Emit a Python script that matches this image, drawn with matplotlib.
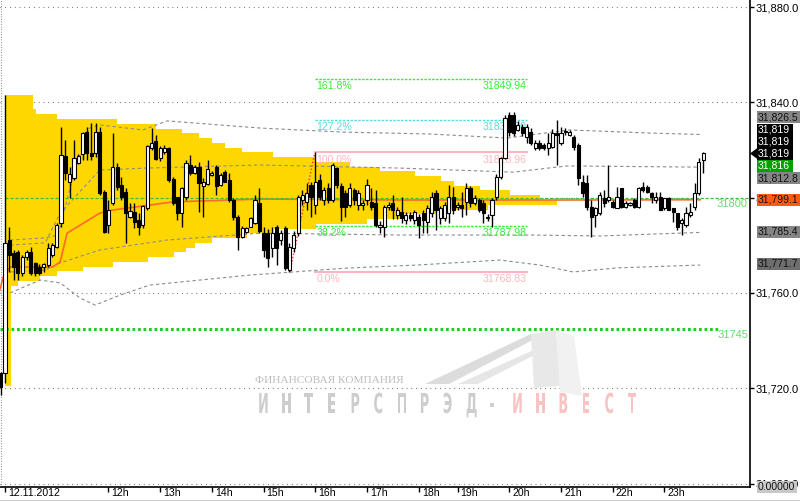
import numpy as np
import matplotlib
matplotlib.use("Agg")
import matplotlib.pyplot as plt
from matplotlib.patches import Rectangle, Polygon, PathPatch
from matplotlib.textpath import TextPath
from matplotlib.font_manager import FontProperties
from matplotlib.transforms import Affine2D

# ==============================================================================
#                           DATA (5 minute bars, 12.11.2012)
# ==============================================================================
first_bar = -1  # bar index of the first candle, 10h = 0

opens = [31726.4, 31726.4, 31782.2, 31776.6, 31777.3, 31768.5, 31775.2, 31777.3, 31772.4, 31771.0,
         31770.7, 31771.7, 31775.9, 31779.4, 31789.2, 31817.5, 31806.7, 31808.1, 31814.7, 31818.3,
         31827.7, 31818.9, 31818.6, 31827.7, 31802.5, 31788.5, 31797.6, 31813.0, 31805.3, 31802.5,
         31791.7, 31794.1, 31790.6, 31788.5, 31795.5, 31820.7, 31823.8, 31816.5, 31819.3, 31820.7,
         31807.8, 31800.1, 31793.7, 31800.4, 31813.7, 31810.5, 31813.0, 31804.9, 31805.7, 31809.5,
         31812.7, 31805.3, 31810.9, 31807.4, 31799.0, 31792.0, 31783.6, 31785.7, 31787.8, 31789.2,
         31797.6, 31785.0, 31785.0, 31778.7, 31787.8, 31782.2, 31787.1, 31769.6, 31778.7, 31785.0,
         31799.0, 31798.3, 31805.3, 31797.0, 31807.4, 31799.0, 31803.9, 31799.0, 31812.3, 31805.0,
         31801.8, 31796.9, 31803.2, 31796.9, 31796.9, 31799.0, 31798.3, 31797.6, 31787.8, 31787.8,
         31796.2, 31797.6, 31792.7, 31794.1, 31790.6, 31792.7, 31790.6, 31792.0, 31793.4, 31789.9,
         31793.4, 31801.8, 31791.3, 31791.3, 31793.4, 31800.4, 31796.2, 31796.9, 31798.3, 31803.9,
         31797.6, 31799.0, 31797.6, 31791.3, 31792.7, 31800.4, 31808.8, 31816.5, 31834.7, 31834.7,
         31828.4, 31829.8, 31825.6, 31827.7, 31820.7, 31823.1, 31822.1, 31820.7, 31821.4, 31827.0,
         31822.8, 31827.7, 31826.3, 31825.6, 31822.1, 31806.7, 31806.0, 31796.2, 31792.7, 31793.4,
         31799.7, 31799.0, 31798.3, 31795.5, 31803.9, 31796.2, 31797.0, 31799.0, 31796.2, 31804.6,
         31804.6, 31801.8, 31799.0, 31800.4, 31795.5, 31799.7, 31795.5, 31793.4, 31789.2, 31788.5,
         31792.7, 31796.2, 31801.8, 31815.8]
highs = [31727.0, 31843.0, 31787.8, 31778.0, 31778.0, 31776.0, 31778.0, 31779.4, 31773.0, 31772.0,
         31772.7, 31780.8, 31781.0, 31789.2, 31829.8, 31824.2, 31813.0, 31824.2, 31818.5, 31827.7,
         31829.8, 31831.2, 31831.2, 31829.8, 31803.2, 31799.0, 31827.0, 31814.4, 31808.8, 31803.9,
         31797.6, 31797.6, 31793.4, 31796.9, 31822.1, 31829.1, 31826.3, 31821.5, 31822.0, 31821.4,
         31808.8, 31800.4, 31804.6, 31815.8, 31817.9, 31813.5, 31815.1, 31808.1, 31815.8, 31811.0,
         31813.7, 31810.2, 31811.6, 31810.2, 31799.7, 31792.7, 31788.0, 31787.8, 31792.0, 31801.1,
         31803.9, 31787.8, 31787.0, 31787.8, 31788.5, 31786.5, 31788.0, 31781.0, 31786.0, 31801.0,
         31803.0, 31806.0, 31806.7, 31819.0, 31810.0, 31804.5, 31806.0, 31814.4, 31813.0, 31806.0,
         31803.0, 31806.0, 31804.0, 31803.0, 31799.0, 31808.0, 31804.0, 31803.2, 31790.0, 31797.0,
         31798.0, 31801.0, 31796.0, 31800.4, 31794.0, 31794.0, 31795.0, 31793.0, 31795.0, 31797.0,
         31802.5, 31803.0, 31796.5, 31798.0, 31805.3, 31804.6, 31798.0, 31802.5, 31806.0, 31805.0,
         31801.0, 31800.0, 31799.0, 31793.0, 31799.7, 31810.0, 31817.2, 31834.5, 31836.0, 31836.0,
         31832.0, 31831.0, 31831.0, 31829.1, 31824.0, 31824.0, 31823.0, 31827.0, 31828.7, 31832.6,
         31829.8, 31829.1, 31828.5, 31826.3, 31822.8, 31809.5, 31809.5, 31799.0, 31796.2, 31802.5,
         31803.2, 31813.7, 31799.0, 31804.6, 31803.9, 31798.5, 31798.0, 31800.0, 31804.6, 31806.7,
         31805.3, 31802.5, 31802.5, 31802.5, 31800.0, 31800.4, 31795.5, 31793.4, 31791.3, 31796.2,
         31797.6, 31806.0, 31816.5, 31819.3]
lows = [31717.0, 31722.0, 31768.9, 31765.4, 31765.4, 31767.0, 31774.0, 31767.5, 31767.0, 31767.5,
        31768.9, 31771.0, 31775.0, 31778.7, 31787.8, 31807.4, 31799.7, 31807.4, 31814.0, 31815.8,
        31815.8, 31815.8, 31817.2, 31801.1, 31785.0, 31785.0, 31796.9, 31803.2, 31799.0, 31780.8,
        31791.3, 31787.1, 31784.3, 31787.1, 31794.8, 31820.0, 31815.8, 31815.5, 31818.5, 31806.7,
        31796.9, 31790.6, 31787.8, 31799.0, 31809.5, 31810.0, 31794.1, 31792.0, 31805.3, 31809.0,
        31801.1, 31805.0, 31806.7, 31798.3, 31790.6, 31778.0, 31783.0, 31785.0, 31787.5, 31789.0,
        31785.0, 31775.2, 31771.0, 31775.2, 31771.7, 31780.0, 31769.6, 31768.8, 31777.0, 31784.0,
        31797.0, 31795.0, 31792.0, 31793.0, 31799.0, 31797.0, 31797.6, 31798.3, 31804.0, 31790.0,
        31792.0, 31796.0, 31797.0, 31795.0, 31795.0, 31797.0, 31795.0, 31787.8, 31785.0, 31783.6,
        31795.0, 31791.0, 31791.0, 31789.2, 31789.0, 31790.0, 31789.0, 31782.9, 31785.0, 31785.0,
        31792.0, 31786.4, 31789.0, 31790.0, 31789.2, 31793.0, 31795.0, 31792.0, 31792.7, 31796.0,
        31797.0, 31794.0, 31789.2, 31790.0, 31787.8, 31799.0, 31808.0, 31816.0, 31826.0, 31826.0,
        31828.0, 31826.0, 31823.0, 31822.1, 31820.0, 31820.0, 31820.0, 31817.9, 31820.7, 31813.7,
        31822.1, 31826.3, 31826.0, 31820.0, 31805.3, 31800.4, 31794.8, 31783.6, 31787.8, 31792.7,
        31796.2, 31798.0, 31795.5, 31795.5, 31795.5, 31795.5, 31796.5, 31795.5, 31795.5, 31802.5,
        31801.8, 31797.6, 31797.6, 31794.8, 31795.0, 31794.8, 31789.9, 31786.4, 31784.3, 31787.8,
        31792.0, 31794.8, 31801.1, 31810.2]
closes = [31720.5, 31781.0, 31775.9, 31771.0, 31768.2, 31775.2, 31777.3, 31768.2, 31768.2, 31768.5,
          31772.1, 31778.7, 31780.1, 31788.5, 31817.9, 31810.2, 31809.8, 31816.5, 31817.5, 31827.0,
          31818.6, 31817.5, 31827.7, 31801.8, 31785.7, 31794.8, 31812.7, 31804.6, 31800.4, 31793.4,
          31794.5, 31789.9, 31787.8, 31796.5, 31821.7, 31822.8, 31816.1, 31820.7, 31820.7, 31807.4,
          31797.6, 31793.4, 31803.9, 31814.4, 31810.2, 31812.7, 31806.0, 31806.7, 31811.9, 31810.2,
          31804.9, 31809.5, 31806.7, 31799.0, 31792.0, 31783.6, 31787.1, 31787.1, 31791.3, 31799.0,
          31786.0, 31778.0, 31774.5, 31785.0, 31778.7, 31785.0, 31770.3, 31779.4, 31784.3, 31800.4,
          31801.1, 31801.8, 31800.4, 31806.5, 31800.4, 31803.2, 31799.0, 31813.7, 31805.3, 31796.0,
          31796.2, 31803.9, 31799.0, 31801.8, 31797.6, 31805.3, 31796.2, 31788.5, 31788.5, 31796.2,
          31796.9, 31794.8, 31794.8, 31791.3, 31792.7, 31791.3, 31794.1, 31788.5, 31790.6, 31795.5,
          31800.4, 31794.8, 31795.5, 31796.9, 31800.4, 31794.8, 31796.9, 31795.5, 31803.9, 31797.6,
          31799.7, 31794.8, 31793.4, 31792.0, 31799.0, 31808.8, 31816.5, 31833.3, 31827.5, 31827.0,
          31830.5, 31827.0, 31829.8, 31822.8, 31823.1, 31820.7, 31820.7, 31823.1, 31827.0, 31826.3,
          31827.0, 31828.0, 31827.7, 31821.4, 31808.1, 31801.8, 31796.2, 31792.0, 31795.5, 31801.1,
          31797.6, 31800.4, 31796.2, 31800.4, 31796.2, 31797.6, 31797.6, 31796.2, 31803.9, 31803.2,
          31802.5, 31800.4, 31800.1, 31794.8, 31799.7, 31794.8, 31794.1, 31787.8, 31790.6, 31793.4,
          31794.1, 31801.8, 31815.1, 31818.6]

# volume profile: 2 point price bins from 31721 up to 31843, width in bars
profile_bottom = 31721.0
profile_step = 2.0
profile_width = [1.4] * 21 + [3, 8, 12, 18, 25, 33, 39, 42, 44, 48,
                              56, 62, 72, 84, 92, 100, 112, 128, 124, 117,
                              110, 104, 101, 95, 87, 80, 72, 62, 55, 51,
                              48, 45, 41, 35, 26, 12, 7, 6.5, 6.5, 6.5]

# VWAP and deviation bands (bar index, price)
vwap_x = [-1.2, -0.5, 1.2, 11.1, 12.8, 14.4, 22, 25, 33.6, 39, 59.2, 91.6, 130, 161.3]
vwap_y = [31761.2, 31766.3, 31770.9, 31770.9, 31773.0, 31785.1, 31793.5, 31794.8, 31796.9,
          31798.2, 31799.4, 31799.0, 31799.0, 31799.1]
band_uo_x = [1.2, 9.3, 12.3, 16.2, 19.7, 22, 32, 37.6, 59.2, 78.4, 98.6, 116.5, 121.8, 131, 149.7, 161.3]
band_uo_y = [31782.2, 31783.1, 31784.3, 31811.6, 31829.3, 31830.5, 31828.4, 31832.2, 31829.2,
             31827.5, 31826.7, 31825.0, 31826.3, 31828.4, 31827.1, 31826.5]
band_ui_x = [1.2, 9.3, 12.8, 22, 33, 59.2, 91.6, 117.9, 130.4, 161.3]
band_ui_y = [31780.1, 31781.0, 31793.5, 31811.6, 31812.4, 31813.7, 31812.4, 31810.7, 31813.3, 31812.8]
band_li_x = [1.2, 9.3, 12.8, 22, 37.6, 59.2, 91.6, 122.5, 138, 161.3]
band_li_y = [31768.8, 31769.6, 31772.6, 31778.0, 31782.2, 31785.1, 31784.3, 31784.3, 31783.9, 31785.4]
band_lo_x = [1.2, 8.1, 12.8, 17.4, 20.9, 26.7, 33.6, 56.8, 80, 95.6, 114.8, 124.1, 131.8, 142, 161.3]
band_lo_y = [31760.0, 31765.4, 31764.2, 31757.9, 31754.9, 31759.1, 31763.3, 31767.5, 31770.5,
             31771.7, 31773.8, 31771.7, 31768.8, 31770.5, 31771.7]

# fibonacci retracement
fib_low = 31768.83
fib_high = 31818.96
fib_start = 66.1
fib_anchor = 71.9
fib_end = 121.0
fib_ratios = [1.618, 1.272, 1.0, 0.382, 0.0]
fib_names = ["161.8%", "127.2%", "100.0%", "38.2%", "0.0%"]
fib_colors = ["#33ee33", "#55dddd", "#ffb6bf", "#33ee33", "#ffb6bf"]

level_green = 31800.0
level_support = 31745.0
other_marker = 31816.0

x_tick_pos = [0, 24, 36, 48, 60, 72, 84, 96, 105, 117, 129, 141, 153]
x_tick_lab = ["12.11.2012", "12h", "13h", "14h", "15h", "16h", "17h", "18h", "19h",
              "20h", "21h", "22h", "23h"]
y_ticks = [31680, 31720, 31760, 31800, 31840, 31880]

# ==============================================================================
#                           PLOTTING
# ==============================================================================
plt.rcParams['font.family'] = ['Liberation Sans', 'DejaVu Sans']
W, H = 800, 501
fig = plt.figure(figsize=(W / 100, H / 100), dpi=100)
ax = fig.add_axes([0, 14 / H, 750 / W, 487 / H])
ax.set_xlim(-1.16, 172.85)
ax.set_ylim(31678.55, 31882.94)

# pixel coordinates (top-left origin) for decorations
px = Affine2D().scale(1 / W, -1 / H).translate(0, 1) + fig.transFigure

# watermark logo
logo = [([(425, 384), (531, 334), (544, 334), (449, 384)], "#dcdcdc"),
        ([(458, 384), (538, 348), (548, 348), (478, 384)], "#e6e6e6"),
        ([(531, 334), (556, 330), (560, 386), (534, 388)], "#e8e8e8"),
        ([(556, 330), (574, 336), (582, 396), (560, 392)], "#f1f1f1")]
for pts, c in logo:
    fig.patches.append(Polygon(pts, closed=True, transform=px, facecolor=c,
                               edgecolor="none", zorder=0))
fig.text(255 / W, 1 - 383 / H, "ФИНАНСОВАЯ КОМПАНИЯ", fontsize=8.2,
         family="Liberation Serif", color="#bdbdbd", zorder=0)
word = "ИНТЕРСПРЭД-ИНВЕСТ"
fp = FontProperties(family="DejaVu Sans", weight="bold")
for k, ch in enumerate(word):
    tp = TextPath((0, 0), ch, size=27.5, prop=fp)
    tr = Affine2D().scale(0.47, -1.0).translate(258 + 23.1 * k, 413) + px
    col = "#cdcdcd" if k < 11 else "#f7c3c3"
    fig.patches.append(PathPatch(tp, transform=tr, facecolor=col, edgecolor="none", zorder=0))

ax.patch.set_alpha(0)

# grid
for yt in y_ticks:
    ax.axhline(yt, color="#555555", lw=0.8, ls=(0, (0.7, 3.6)), zorder=1)
ax.axvline(-0.9, color="#777777", lw=0.8, ls=(0, (0.7, 1.6)), zorder=1)

# volume profile
prof_levels = profile_bottom + profile_step * np.arange(len(profile_width))
ax.barh(prof_levels, profile_width, height=profile_step, left=0.1, align="edge",
        color="#ffd700", edgecolor="none", zorder=2)

# bands and vwap
for bx, by in [(band_uo_x, band_uo_y), (band_ui_x, band_ui_y),
               (band_li_x, band_li_y), (band_lo_x, band_lo_y)]:
    ax.plot(bx, by, color="#8c8c8c", lw=0.8, ls=(0, (3, 2.5)), zorder=3)
ax.plot(vwap_x, vwap_y, color="#ff6a2a", lw=1.2, zorder=3)

# horizontal levels
ax.plot([0, 172.85], [level_green, level_green], color="#3cbf3c", lw=0.9,
        ls=(0, (2.5, 1.5)), zorder=3)
ax.plot([-1.16, 166], [level_support, level_support], color="#1ecf1e", lw=2.2,
        ls=(0, (0.9, 0.9)), zorder=3)
ax.annotate(f"{level_green:.0f}", (1, level_green), xycoords=("axes fraction", "data"),
            xytext=(-2, -1), textcoords="offset pixels", color="#66dd66", fontsize=8,
            ha="right", va="top", zorder=6)
ax.annotate(f"{level_support:.0f}", (1, level_support), xycoords=("axes fraction", "data"),
            xytext=(-2, -1), textcoords="offset pixels", color="#66dd66", fontsize=8,
            ha="right", va="top", zorder=6)

# fibonacci
fib_range = fib_high - fib_low
ax.plot([fib_start, fib_anchor], [fib_low, fib_high], color="#ff3030", lw=1.0,
        ls=(0, (1, 1.5)), zorder=4)
for r, name, c in zip(fib_ratios, fib_names, fib_colors):
    lvl = fib_low + r * fib_range
    solid = name in ("100.0%", "0.0%")
    ax.plot([fib_anchor, fib_end], [lvl, lvl], color=c, lw=1.5 if solid else 1.0,
            ls="-" if solid else (0, (1.8, 1.0)), zorder=4)
    ax.annotate(name, (fib_anchor, lvl), xytext=(1, -1.5), textcoords="offset points",
                color=c, fontsize=7.6, ha="left", va="top", zorder=6)
    ax.annotate(f"{lvl:.2f}", (fib_end, lvl), xytext=(0, -1.5), textcoords="offset points",
                color=c, fontsize=7.6, ha="right", va="top", zorder=6)

# candles
xs = np.arange(first_bar, first_bar + len(opens))
o = np.array(opens); h = np.array(highs); l = np.array(lows); c = np.array(closes)
ax.vlines(xs, l, h, color="black", lw=1.0, zorder=7)
up = c >= o
body_lo = np.minimum(o, c)
body_h = np.maximum(np.abs(c - o), 0.45)
ax.bar(xs[up], body_h[up], bottom=body_lo[up], width=0.72, color="white",
       edgecolor="black", lw=0.8, zorder=8)
ax.bar(xs[~up], body_h[~up], bottom=body_lo[~up], width=0.72, color="black",
       edgecolor="black", lw=0.8, zorder=8)

# axes
for s in ["top", "left"]:
    ax.spines[s].set_visible(False)
ax.spines["right"].set_linewidth(1.2)
ax.spines["bottom"].set_linewidth(1.2)
ax.yaxis.tick_right()
ax.set_yticks(y_ticks)
ax.set_yticklabels([f"{v:,.1f}" for v in y_ticks])
ax.tick_params(axis="y", length=3, width=1, pad=1, labelsize=8, colors="black")
ax.set_xticks(x_tick_pos)
ax.set_xticklabels([])
ax.tick_params(axis="x", length=3.6, width=1)
for pos, lab in zip(x_tick_pos, x_tick_lab):
    ax.annotate(lab, (pos, 0), xycoords=("data", "axes fraction"), xytext=(3, -1.5),
                textcoords="offset pixels", fontsize=7.6, ha="left", va="top",
                annotation_clip=False)

fig.lines.append(plt.Line2D([0, 1], [1 - 500.5 / H] * 2, transform=fig.transFigure,
                            color="black", lw=1))


# value boxes on the price scale
def box(yc, text, bg, fg, x1=800):
    fig.patches.append(Rectangle((757, yc - 6), x1 - 757, 12, transform=px,
                                 facecolor=bg, edgecolor="none", zorder=20))
    fig.text(758 / W, 1 - yc / H, text, color=fg, fontsize=7.5, va="center",
             ha="left", zorder=21)


last = closes[-1]
box(117, f"{band_uo_y[-1]:,.1f}", "#858585", "#111111")
for yc in (129.5, 141.5, 153.5):
    box(yc, f"{last:,.0f}", "black", "white", x1=793)
box(165.5, f"{other_marker:,.0f}", "#00a000", "white", x1=793)
box(178, f"{band_ui_y[-1]:,.1f}", "#858585", "#111111")
box(199.5, f"{vwap_y[-1]:,.1f}", "#ff5a14", "#111111")
box(232, f"{band_li_y[-1]:,.1f}", "#858585", "#111111")
box(264, f"{band_lo_y[-1]:,.1f}", "#6e6e6e", "#111111")
box(487, "0.00000", "#c8c8c8", "#111111", x1=797)
fig.patches.append(Polygon([(758, 147.5), (758, 159.5), (750, 153.5)], closed=True,
                           transform=px, facecolor="black", zorder=20))

fig.savefig("out.png", dpi=100)
